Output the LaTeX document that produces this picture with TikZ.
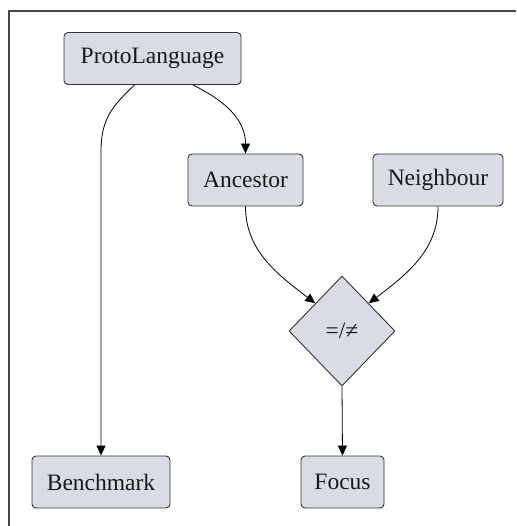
\documentclass[tikz,border=0pt]{standalone}
\usepackage{fontspec}
\setmainfont{Liberation Serif}
\usetikzlibrary{shapes.geometric,arrows.meta}
\definecolor{boxfill}{HTML}{D9DCE5}
\definecolor{boxline}{HTML}{333333}
\definecolor{framecol}{HTML}{444444}
\tikzset{
  box/.style={draw=boxline, fill=boxfill, rounded corners=4pt, line width=0.9pt,
    minimum height=52pt, inner sep=0pt, font=\fontsize{23.5}{27}\selectfont, text=black!90},
  decide/.style={draw=boxline, fill=boxfill, diamond, line width=0.9pt, inner sep=0pt,
    minimum width=106pt, minimum height=110pt, font=\fontsize{23.5}{27}\selectfont, text=black!90},
  conn/.style={draw=black, line width=0.8pt, -{Triangle[length=10pt,width=9pt]}},
}
\begin{document}
\begin{tikzpicture}[x=1pt,y=-1pt]
\useasboundingbox (0,0) rectangle (516,526);
\draw[framecol, line width=1.2pt] (9,526) -- (9,11) -- (516,11);
\node[box, minimum width=177pt] (proto) at (152.5,58.5) {ProtoLanguage};
\node[box, minimum width=115pt] (anc) at (245.5,180) {Ancestor};
\node[box, minimum width=130pt] (nei) at (438,180) {Neighbour};
\node[decide] (dia) at (342,331) {=/≠};
\node[box, minimum width=138pt] (bench) at (101,482) {Benchmark};
\node[box, minimum width=83pt] (focus) at (342.5,482) {Focus};
\draw[conn] ([xshift=-18pt]proto.south) .. controls +(-22,21) and +(0,-32) .. ([xshift=-51.5pt,yshift=-66pt]proto.south) -- (bench.north);
\draw[conn] ([xshift=40.5pt]proto.south) .. controls +(32,16) and +(0,-34) .. (anc.north);
\draw[conn] (anc.south) .. controls +(0,44) and +(-38,-29) .. (dia.north west);
\draw[conn] (nei.south) .. controls +(0,44) and +(38,-29) .. (dia.north east);
\draw[conn] (dia.south) -- (focus.north);
\end{tikzpicture}
\end{document}
